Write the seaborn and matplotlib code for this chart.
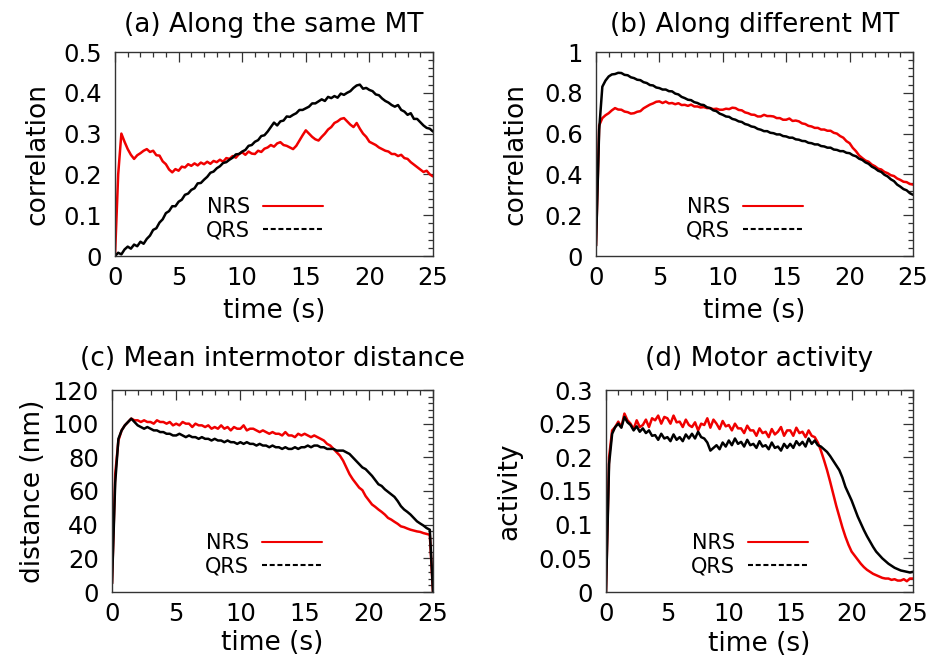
import numpy as np
import pandas as pd
import matplotlib
matplotlib.use("Agg")
import matplotlib.pyplot as plt
import seaborn as sns
from matplotlib.ticker import AutoMinorLocator
from matplotlib.lines import Line2D

# ---------------- data ----------------
TIME = np.linspace(0, 25, 101)  # sampling grid, 0.25 s steps

X_TICKS = [0, 5, 10, 15, 20, 25]
X_TICK_LABELS = ["0", "5", "10", "15", "20", "25"]

SERIES_NAMES = ["NRS", "QRS"]

TITLES = ["(a) Along the same MT", "(b) Along different MT",
          "(c) Mean intermotor distance", "(d) Motor activity"]
Y_LABELS = ["correlation", "correlation", "distance (nm)", "activity"]
X_LABEL = "time (s)"

A_YTICKS = [0, 0.1, 0.2, 0.3, 0.4, 0.5]
A_YTICK_LABELS = ["0", "0.1", "0.2", "0.3", "0.4", "0.5"]
B_YTICKS = [0, 0.2, 0.4, 0.6, 0.8, 1.0]
B_YTICK_LABELS = ["0", "0.2", "0.4", "0.6", "0.8", "1"]
C_YTICKS = [0, 20, 40, 60, 80, 100, 120]
C_YTICK_LABELS = ["0", "20", "40", "60", "80", "100", "120"]
D_YTICKS = [0, 0.05, 0.1, 0.15, 0.2, 0.25, 0.3]
D_YTICK_LABELS = ["0", "0.05", "0.1", "0.15", "0.2", "0.25", "0.3"]

NRS_A = [0.000, 0.200, 0.300, 0.280,
         0.262, 0.248, 0.238, 0.247,
         0.252, 0.258, 0.262, 0.255,
         0.258, 0.247, 0.246, 0.232,
         0.225, 0.212, 0.205, 0.213,
         0.209, 0.219, 0.217, 0.225,
         0.221, 0.227, 0.222, 0.229,
         0.225, 0.231, 0.226, 0.233,
         0.230, 0.236, 0.231, 0.240,
         0.238, 0.245, 0.241, 0.250,
         0.254, 0.248, 0.256, 0.251,
         0.250, 0.258, 0.255, 0.263,
         0.266, 0.272, 0.268, 0.276,
         0.279, 0.272, 0.270, 0.266,
         0.262, 0.270, 0.283, 0.296,
         0.308, 0.300, 0.292, 0.286,
         0.283, 0.292, 0.300, 0.310,
         0.316, 0.326, 0.330, 0.336,
         0.338, 0.330, 0.322, 0.316,
         0.326, 0.312, 0.300, 0.292,
         0.280, 0.276, 0.272, 0.266,
         0.262, 0.258, 0.256, 0.250,
         0.250, 0.245, 0.248, 0.240,
         0.238, 0.230, 0.224, 0.218,
         0.212, 0.206, 0.209, 0.200,
         0.195]

QRS_A = [0.000, 0.008, 0.004, 0.016,
         0.023, 0.018, 0.028, 0.024,
         0.035, 0.030, 0.042, 0.050,
         0.064, 0.068, 0.082, 0.090,
         0.105, 0.110, 0.122, 0.122,
         0.133, 0.138, 0.150, 0.153,
         0.162, 0.166, 0.178, 0.179,
         0.187, 0.194, 0.204, 0.207,
         0.215, 0.220, 0.228, 0.230,
         0.236, 0.241, 0.249, 0.250,
         0.256, 0.260, 0.270, 0.272,
         0.280, 0.284, 0.294, 0.296,
         0.305, 0.316, 0.327, 0.320,
         0.330, 0.332, 0.342, 0.341,
         0.346, 0.350, 0.358, 0.358,
         0.362, 0.366, 0.374, 0.374,
         0.379, 0.384, 0.380, 0.390,
         0.387, 0.392, 0.388, 0.398,
         0.395, 0.400, 0.404, 0.412,
         0.418, 0.420, 0.410, 0.412,
         0.407, 0.404, 0.396, 0.394,
         0.386, 0.380, 0.376, 0.370,
         0.366, 0.370, 0.358, 0.354,
         0.346, 0.350, 0.336, 0.336,
         0.328, 0.320, 0.314, 0.312,
         0.305]

NRS_B = [0.050, 0.640, 0.676, 0.690,
         0.700, 0.714, 0.725, 0.718,
         0.717, 0.708, 0.705, 0.698,
         0.700, 0.707, 0.710, 0.724,
         0.733, 0.742, 0.748, 0.756,
         0.758, 0.750, 0.757, 0.748,
         0.750, 0.744, 0.749, 0.740,
         0.741, 0.736, 0.742, 0.733,
         0.733, 0.728, 0.730, 0.725,
         0.725, 0.720, 0.722, 0.717,
         0.717, 0.722, 0.720, 0.727,
         0.725, 0.716, 0.714, 0.704,
         0.700, 0.693, 0.692, 0.684,
         0.684, 0.692, 0.686, 0.686,
         0.684, 0.676, 0.676, 0.668,
         0.668, 0.674, 0.662, 0.664,
         0.660, 0.650, 0.647, 0.638,
         0.635, 0.628, 0.628, 0.620,
         0.620, 0.614, 0.614, 0.604,
         0.600, 0.588, 0.580, 0.563,
         0.553, 0.530, 0.514, 0.493,
         0.480, 0.468, 0.462, 0.448,
         0.440, 0.428, 0.424, 0.412,
         0.406, 0.396, 0.392, 0.380,
         0.373, 0.364, 0.362, 0.353,
         0.350]

QRS_B = [0.050, 0.620, 0.830, 0.860,
         0.880, 0.890, 0.892, 0.898,
         0.897, 0.888, 0.886, 0.876,
         0.872, 0.864, 0.862, 0.852,
         0.848, 0.838, 0.836, 0.826,
         0.823, 0.816, 0.816, 0.808,
         0.807, 0.796, 0.792, 0.780,
         0.774, 0.766, 0.764, 0.754,
         0.750, 0.742, 0.740, 0.729,
         0.725, 0.714, 0.710, 0.698,
         0.692, 0.684, 0.682, 0.672,
         0.668, 0.660, 0.657, 0.647,
         0.643, 0.635, 0.632, 0.623,
         0.619, 0.612, 0.612, 0.604,
         0.602, 0.596, 0.596, 0.588,
         0.586, 0.580, 0.580, 0.572,
         0.570, 0.564, 0.563, 0.555,
         0.553, 0.547, 0.547, 0.539,
         0.537, 0.531, 0.531, 0.522,
         0.520, 0.514, 0.514, 0.506,
         0.504, 0.494, 0.489, 0.477,
         0.471, 0.459, 0.452, 0.438,
         0.430, 0.418, 0.412, 0.398,
         0.390, 0.376, 0.367, 0.350,
         0.340, 0.328, 0.322, 0.308,
         0.300]

NRS_C = [5, 70, 90, 96,
         99, 101, 103, 102,
         102, 101, 102, 101,
         101, 100, 102, 101,
         101, 100, 101, 99,
         100, 99, 101, 100,
         100, 98, 100, 99,
         99, 98, 99, 97,
         98, 97, 99, 97,
         98, 96, 98, 97,
         97, 99, 96, 97,
         97, 96, 95, 96,
         95, 94, 95, 94,
         94, 93, 95, 93,
         93, 92, 94, 93,
         94, 93, 92, 93,
         92, 91, 90, 88,
         87, 85, 83, 81,
         78, 74, 70, 67,
         64.5, 62, 60.5, 57,
         54.5, 52, 50.6, 49,
         47.6, 46, 44, 43,
         41.7, 40.5, 39, 38.5,
         37.7, 37, 36.5, 36,
         35.7, 35, 34.5, 34,
         0]

QRS_C = [5, 65, 91, 96,
         99, 101, 103, 101,
         99, 98, 97, 98,
         97, 96, 96, 95,
         95, 94, 94, 93,
         93, 94, 93, 92,
         93, 92, 92, 91,
         92, 91, 91, 90,
         91, 90, 90, 89,
         90, 89, 89, 88,
         89, 88, 89, 88,
         88, 87, 88, 87,
         87, 86, 87, 86,
         86, 85, 86, 85,
         85, 86, 85, 86,
         86, 87, 86, 87,
         87, 86, 86, 85,
         85, 85, 84, 84,
         84, 83, 82, 80,
         78, 76, 74, 73,
         71, 69, 66.5, 64,
         63, 61, 59.5, 58,
         56.5, 54, 51, 49,
         47.6, 46, 44, 42,
         40.7, 39.5, 38, 37,
         0]

NRS_D = [0.000, 0.200, 0.240, 0.245,
         0.253, 0.245, 0.265, 0.255,
         0.250, 0.242, 0.255, 0.245,
         0.248, 0.256, 0.245, 0.258,
         0.255, 0.262, 0.250, 0.260,
         0.258, 0.250, 0.262, 0.252,
         0.253, 0.245, 0.256, 0.248,
         0.245, 0.252, 0.240, 0.250,
         0.248, 0.258, 0.244, 0.256,
         0.250, 0.242, 0.254, 0.246,
         0.248, 0.240, 0.250, 0.243,
         0.243, 0.236, 0.247, 0.240,
         0.240, 0.232, 0.243, 0.236,
         0.238, 0.230, 0.242, 0.234,
         0.238, 0.245, 0.232, 0.240,
         0.240, 0.232, 0.244, 0.236,
         0.238, 0.230, 0.240, 0.232,
         0.230, 0.222, 0.210, 0.196,
         0.181, 0.164, 0.146, 0.128,
         0.112, 0.096, 0.082, 0.070,
         0.060, 0.054, 0.048, 0.042,
         0.037, 0.033, 0.030, 0.027,
         0.025, 0.023, 0.021, 0.020,
         0.020, 0.018, 0.019, 0.017,
         0.017, 0.019, 0.016, 0.020,
         0.020]

QRS_D = [0.000, 0.190, 0.235, 0.245,
         0.250, 0.244, 0.260, 0.252,
         0.248, 0.240, 0.246, 0.238,
         0.243, 0.236, 0.240, 0.232,
         0.233, 0.226, 0.235, 0.228,
         0.230, 0.224, 0.234, 0.226,
         0.230, 0.224, 0.234, 0.228,
         0.235, 0.228, 0.238, 0.230,
         0.228, 0.222, 0.210, 0.214,
         0.218, 0.212, 0.222, 0.216,
         0.225, 0.218, 0.228, 0.220,
         0.223, 0.216, 0.226, 0.218,
         0.220, 0.214, 0.224, 0.216,
         0.218, 0.212, 0.222, 0.214,
         0.216, 0.210, 0.220, 0.214,
         0.220, 0.214, 0.224, 0.218,
         0.223, 0.216, 0.228, 0.220,
         0.225, 0.218, 0.216, 0.212,
         0.208, 0.202, 0.195, 0.188,
         0.181, 0.170, 0.156, 0.146,
         0.136, 0.124, 0.112, 0.102,
         0.092, 0.083, 0.075, 0.067,
         0.060, 0.055, 0.050, 0.046,
         0.042, 0.039, 0.036, 0.034,
         0.032, 0.031, 0.030, 0.029,
         0.030]

# ---------------- style ----------------
sns.set_theme(style="white")
plt.rcParams["font.family"] = ["DejaVu Sans"]
plt.rcParams["text.color"] = "black"
plt.rcParams["axes.labelcolor"] = "black"
plt.rcParams["legend.labelcolor"] = "black"

RED = "#f00000"
BLACK = "#000000"
FRAME = "#333333"
LINE_W = 1.8

W, H = 945, 661
fig = plt.figure(figsize=(W / 100, H / 100), dpi=100)
fig.patch.set_facecolor("white")


def rect_px(left, top, right, bottom):
    return [left / W, 1 - bottom / H, (right - left) / W, (bottom - top) / H]


panels = [
    dict(rect=(115, 52, 433, 256), nrs=NRS_A, qrs=QRS_A, ylim=(0, 0.5),
         yt=A_YTICKS, ytl=A_YTICK_LABELS, ylab_x=44, xlab_y=318, tpad=14.5, leg_x=323, leg_y=219),
    dict(rect=(596, 52, 913, 256), nrs=NRS_B, qrs=QRS_B, ylim=(0, 1.0),
         yt=B_YTICKS, ytl=B_YTICK_LABELS, ylab_x=523, xlab_y=318, tpad=14.5, leg_x=803, leg_y=219),
    dict(rect=(112, 390, 433, 592), nrs=NRS_C, qrs=QRS_C, ylim=(0, 120),
         yt=C_YTICKS, ytl=C_YTICK_LABELS, ylab_x=40, xlab_y=650, tpad=17.5, leg_x=322, leg_y=555),
    dict(rect=(606, 390, 913, 592), nrs=NRS_D, qrs=QRS_D, ylim=(0, 0.3),
         yt=D_YTICKS, ytl=D_YTICK_LABELS, ylab_x=516, xlab_y=651, tpad=17.5, leg_x=808, leg_y=555),
]

for i, p in enumerate(panels):
    l, t, r, b = p["rect"]
    ax = fig.add_axes(rect_px(l, t, r, b))
    ax.set_facecolor("white")
    df = pd.DataFrame({"time": TIME, SERIES_NAMES[0]: p["nrs"], SERIES_NAMES[1]: p["qrs"]})
    sns.lineplot(data=df, x="time", y=SERIES_NAMES[0], ax=ax, color=RED, linewidth=LINE_W,
                 estimator=None, sort=False, legend=False)
    sns.lineplot(data=df, x="time", y=SERIES_NAMES[1], ax=ax, color=BLACK, linewidth=LINE_W,
                 estimator=None, sort=False, legend=False)

    ax.set_xlim(0, 25)
    ax.set_ylim(*p["ylim"])
    ax.set_xticks(X_TICKS)
    ax.set_xticklabels(X_TICK_LABELS)
    ax.set_yticks(p["yt"])
    ax.set_yticklabels(p["ytl"])
    ax.xaxis.set_minor_locator(AutoMinorLocator(5))
    ax.yaxis.set_minor_locator(AutoMinorLocator(5))
    ax.tick_params(which="both", direction="in", top=True, right=True,
                   color=FRAME, width=0.9)
    ax.tick_params(which="major", length=7)
    ax.tick_params(which="minor", length=3.5)
    ax.tick_params(axis="x", which="major", labelsize=17.5, pad=7, labelcolor="black")
    ax.tick_params(axis="y", which="major", labelsize=17.5, pad=9.5, labelcolor="black")
    for s in ax.spines.values():
        s.set_color(FRAME)
        s.set_linewidth(1.0)
        s.set_visible(True)

    ax.set_title(TITLES[i], fontsize=19, pad=p["tpad"], color="black")
    ax.set_xlabel(X_LABEL, fontsize=19, color="black")
    ax.set_ylabel(Y_LABELS[i], fontsize=19, color="black")
    ax.xaxis.label.set_verticalalignment("baseline")
    ax.xaxis.set_label_coords(0.5, -(p["xlab_y"] - b) / (b - t))
    ax.yaxis.label.set_verticalalignment("baseline")
    ax.yaxis.set_label_coords((p["ylab_x"] - l) / (r - l), 0.5)

    handles = [Line2D([], [], color=RED, linewidth=1.5),
               Line2D([], [], color=BLACK, linewidth=1.5, linestyle=(0, (2.4, 1.3)))]
    ax.legend(handles, SERIES_NAMES, loc="center right",
              bbox_to_anchor=((p["leg_x"] - l) / (r - l), (b - p["leg_y"]) / (b - t)),
              frameon=False, fontsize=15, markerfirst=False, handlelength=2.9,
              handletextpad=0.6, labelspacing=0.15, borderpad=0, borderaxespad=0,
              labelcolor="black")

fig.savefig("out.png", dpi=100, facecolor="white")
